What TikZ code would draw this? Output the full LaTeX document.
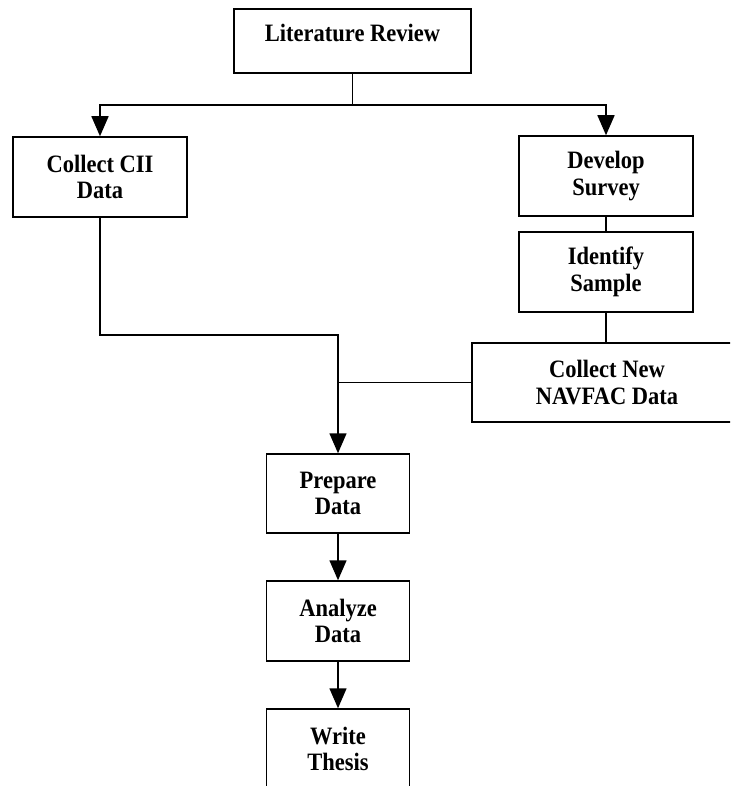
\documentclass[tikz,border=0pt]{standalone}
\usepackage{fontspec}
\setmainfont[FakeStretch=0.9]{Liberation Serif}
\usetikzlibrary{arrows.meta}
\begin{document}
\begin{tikzpicture}[x=1pt,y=1pt,
  box/.style={draw, line width=1.5pt, align=center, inner sep=0pt,
    font=\fontsize{25}{26.5}\selectfont\bfseries},
  link/.style={line width=1.5pt},
  arr/.style={line width=1.5pt, -{Triangle[length=20pt,width=17pt]}}]
\clip (0,0) rectangle (730,-786);
\fill[white] (0,0) rectangle (730,-786);
\node[box, minimum width=237pt, minimum height=64pt, text height=17pt, text depth=15pt] (lit) at (352.5,-41) {Literature Review};
\node[box, minimum width=174pt, minimum height=80pt] (cii) at (100,-177) {Collect CII\\Data};
\node[box, minimum width=174pt, minimum height=80pt] (dev) at (606,-176) {Develop\\Survey};
\node[box, minimum width=174pt, minimum height=80pt] (ident) at (606,-272) {Identify\\Sample};
\node[box, minimum width=270pt, minimum height=79pt] (nav) at (607,-382.5) {Collect New\\NAVFAC Data};
\node[box, minimum width=143pt, minimum height=79pt] (prep) at (338,-493.5) {Prepare\\Data};
\node[box, minimum width=143pt, minimum height=80pt] (anal) at (338,-621) {Analyze\\Data};
\node[box, minimum width=143pt, minimum height=80pt] (write) at (338,-749) {Write\\Thesis};
\coordinate (split) at (lit.south |- 0,-105);
\draw[link] (lit.south) -- (split);
\draw[arr] (split) -| (cii.north);
\draw[arr] (split) -| (dev.north);
\draw[link] (dev.south) -- (ident.north);
\draw[link] (ident.south) -- (ident.south |- nav.north);
\coordinate (merge) at (prep.north |- 0,-335);
\draw[arr] (cii.south) |- (merge) -- (prep.north);
\draw[link] (nav.west) -- (prep.north |- nav.west);
\draw[arr] (prep.south) -- (anal.north);
\draw[arr] (anal.south) -- (write.north);
\end{tikzpicture}
\end{document}
